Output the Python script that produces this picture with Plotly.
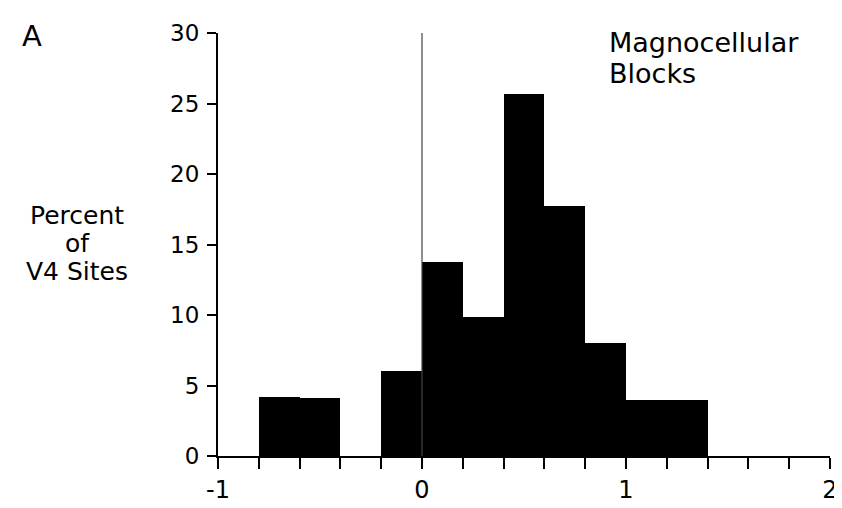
import plotly.graph_objects as go

# Data
bin_left = [-0.8, -0.6, -0.4, -0.2, 0.0, 0.2, 0.4, 0.6, 0.8, 1.0, 1.2]
percent = [4.15, 4.1, 0.0, 6.05, 13.75, 9.85, 25.65, 17.75, 8.0, 4.0, 3.95]
bin_width = 0.2
x_ticks = [-1, 0, 1, 2]
y_ticks = [0, 5, 10, 15, 20, 25, 30]
ylabel_lines = ["Percent", "of", "V4 Sites"]
title_lines = ["Magnocellular", "Blocks"]

centers = [b + bin_width / 2 for b in bin_left]

FONT = "DejaVu Sans, sans-serif"

fig = go.Figure()
fig.add_trace(go.Bar(
    x=centers, y=percent, width=bin_width,
    marker=dict(color="black", line=dict(width=0)),
    showlegend=False, hoverinfo="skip",
))

# vertical reference line at x=0
fig.add_shape(type="line", x0=0, x1=0, y0=0, y1=30, xref="x", yref="y",
              line=dict(color="#444", width=1.2), layer="above")

L, R, T, B = 210, 15, 20, 40
W, H = 842, 508
pw, ph = W - L - R, H - T - B

def px(xp):
    return (xp - L) / pw

def py(yp):
    return (H - B - yp) / ph

annotations = [
    dict(text="A", x=px(22), y=py(23), xref="paper", yref="paper",
         showarrow=False, xanchor="center", yanchor="middle",
         font=dict(size=29, family=FONT)),
]
for txt, yc in zip(ylabel_lines, [213, 243, 273]):
    annotations.append(dict(text=txt, x=px(68), y=py(yc), xref="paper", yref="paper",
                            showarrow=False, xanchor="center", yanchor="middle",
                            borderpad=0, font=dict(size=25, family=FONT)))
for txt, yc in zip(title_lines, [30, 63]):
    annotations.append(dict(text=txt, x=px(603), y=py(yc), xref="paper", yref="paper",
                            showarrow=False, xanchor="left", yanchor="middle",
                            borderpad=0, font=dict(size=27, family=FONT)))

fig.update_layout(
    width=W, height=H,
    margin=dict(l=L, r=R, t=T, b=B, pad=0),
    paper_bgcolor="white", plot_bgcolor="white",
    font=dict(family=FONT, color="black", size=23),
    bargap=0,
    xaxis=dict(
        range=[-1, 2], tickvals=x_ticks, ticktext=[str(v) for v in x_ticks],
        showgrid=False, zeroline=False, showline=True, linecolor="black", linewidth=2,
        ticks="outside", ticklen=11, tickwidth=1.5, tickcolor="black",
        minor=dict(dtick=0.2, tick0=0, ticks="outside", ticklen=11, tickwidth=1.5,
                   tickcolor="black", showgrid=False),
        tickfont=dict(size=24, family=FONT),
        fixedrange=True,
    ),
    yaxis=dict(
        range=[0, 30], tickvals=y_ticks, ticktext=[str(v) for v in y_ticks],
        showgrid=False, zeroline=False, showline=True, linecolor="black", linewidth=2,
        ticks="outside", ticklen=9, tickwidth=1.5, tickcolor="black",
        tickfont=dict(size=23, family=FONT), ticklabelstandoff=3,
        fixedrange=True,
    ),
    annotations=annotations,
)

fig.write_html("out.html")
